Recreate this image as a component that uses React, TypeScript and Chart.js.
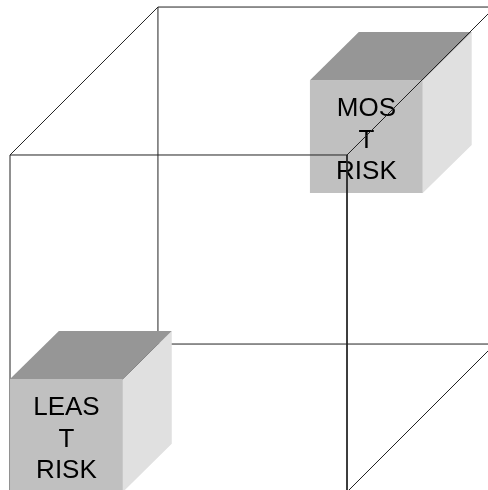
import React, { useEffect, useRef } from "react";
import { Chart, registerables } from "chart.js";

Chart.register(...registerables);

// Big wire-frame cube (unit size, front face at origin) and its depth offset
const CUBE_SIZE = 1;
const CUBE_DEPTH = 0.439;

// Small shaded boxes: front-face lower-left corners, size, depth offset, labels
const boxX = [0, 0.89];
const boxY = [0, 0.887];
const boxInFront = [true, false];
const BOX_SIZE = 0.335;
const BOX_DEPTH_X = 0.145;
const BOX_DEPTH_Y = 0.143;
const boxLabels = [
  ["LEAS", "T", "RISK"],
  ["MOS", "T", "RISK"],
];

// Visible window of the diagram (in cube units)
const X_RANGE = [-0.0297, 1.4184];
const Y_RANGE = [0.0059, 1.4599];

type P = { x: number; y: number };

function cubeEdges(): P[][] {
  const s = CUBE_SIZE;
  const d = CUBE_DEPTH;
  const f = [
    { x: 0, y: 0 },
    { x: 0, y: s },
    { x: s, y: s },
    { x: s, y: 0 },
  ];
  const b = f.map((p) => ({ x: p.x + d, y: p.y + d }));
  const edges: P[][] = [];
  for (let i = 0; i < 4; i++) {
    const j = (i + 1) % 4;
    edges.push([f[i], f[j]]);
    edges.push([b[i], b[j]]);
    edges.push([f[i], b[i]]);
  }
  return edges;
}

const labelPlugin = {
  id: "boxLabels",
  afterDatasetDraw(chart: any, args: any) {
    const ds = chart.data.datasets[args.index] as any;
    if (!ds.labelLines) return;
    const ctx = chart.ctx;
    const cx = chart.scales.x.getPixelForValue(ds.cx);
    const cy = chart.scales.y.getPixelForValue(ds.cy);
    ctx.save();
    ctx.font = '26px "Liberation Sans", Arial, sans-serif';
    ctx.fillStyle = "#000";
    ctx.textAlign = "center";
    ctx.textBaseline = "alphabetic";
    ds.labelLines.forEach((t: string, i: number) => {
      ctx.fillText(t, cx, cy + 11 + (i - 1) * 31.5);
    });
    ctx.restore();
  },
};

export default function App() {
  const ref = useRef<HTMLCanvasElement>(null);

  useEffect(() => {
    if (!ref.current) return;
    const datasets: any[] = [];

    cubeEdges().forEach((e) => {
      datasets.push({
        data: e,
        showLine: true,
        borderColor: "#222",
        borderWidth: 1,
        pointRadius: 0,
        fill: false,
        order: 0,
      });
    });

    boxX.forEach((x0, i) => {
      const y0 = boxY[i];
      const s = BOX_SIZE;
      const dx = BOX_DEPTH_X;
      const dy = BOX_DEPTH_Y;
      const order = boxInFront[i] ? -1 : 1;
      const front = [
        { x: x0, y: y0 },
        { x: x0, y: y0 + s },
        { x: x0 + s, y: y0 + s },
        { x: x0 + s, y: y0 },
        { x: x0, y: y0 },
      ];
      const top = [
        { x: x0, y: y0 + s },
        { x: x0 + dx, y: y0 + s + dy },
        { x: x0 + s + dx, y: y0 + s + dy },
        { x: x0 + s, y: y0 + s },
        { x: x0, y: y0 + s },
      ];
      const side = [
        { x: x0 + s, y: y0 },
        { x: x0 + s, y: y0 + s },
        { x: x0 + s + dx, y: y0 + s + dy },
        { x: x0 + s + dx, y: y0 + dy },
        { x: x0 + s, y: y0 },
      ];
      const face = (data: P[], color: string, extra: any = {}) => ({
        data,
        showLine: true,
        borderWidth: 0,
        borderColor: color,
        backgroundColor: color,
        pointRadius: 0,
        fill: "shape",
        order,
        ...extra,
      });
      datasets.push(face(top, "#969696"));
      datasets.push(face(side, "#e0e0e0"));
      datasets.push(
        face(front, "#c0c0c0", {
          labelLines: boxLabels[i],
          cx: x0 + s / 2,
          cy: y0 + s / 2,
        })
      );
    });

    const chart = new Chart(ref.current, {
      type: "scatter",
      data: { datasets },
      options: {
        responsive: false,
        animation: false,
        devicePixelRatio: 1,
        events: [],
        layout: { padding: 0 },
        plugins: {
          legend: { display: false },
          tooltip: { enabled: false },
        },
        scales: {
          x: { type: "linear", display: false, min: X_RANGE[0], max: X_RANGE[1] },
          y: { type: "linear", display: false, min: Y_RANGE[0], max: Y_RANGE[1] },
        },
      },
      plugins: [labelPlugin],
    } as any);
    return () => chart.destroy();
  }, []);

  return (
    <div style={{ position: "fixed", left: 0, top: 0, width: 488, height: 490, background: "#fff" }}>
      <canvas ref={ref} width={488} height={490} />
    </div>
  );
}
